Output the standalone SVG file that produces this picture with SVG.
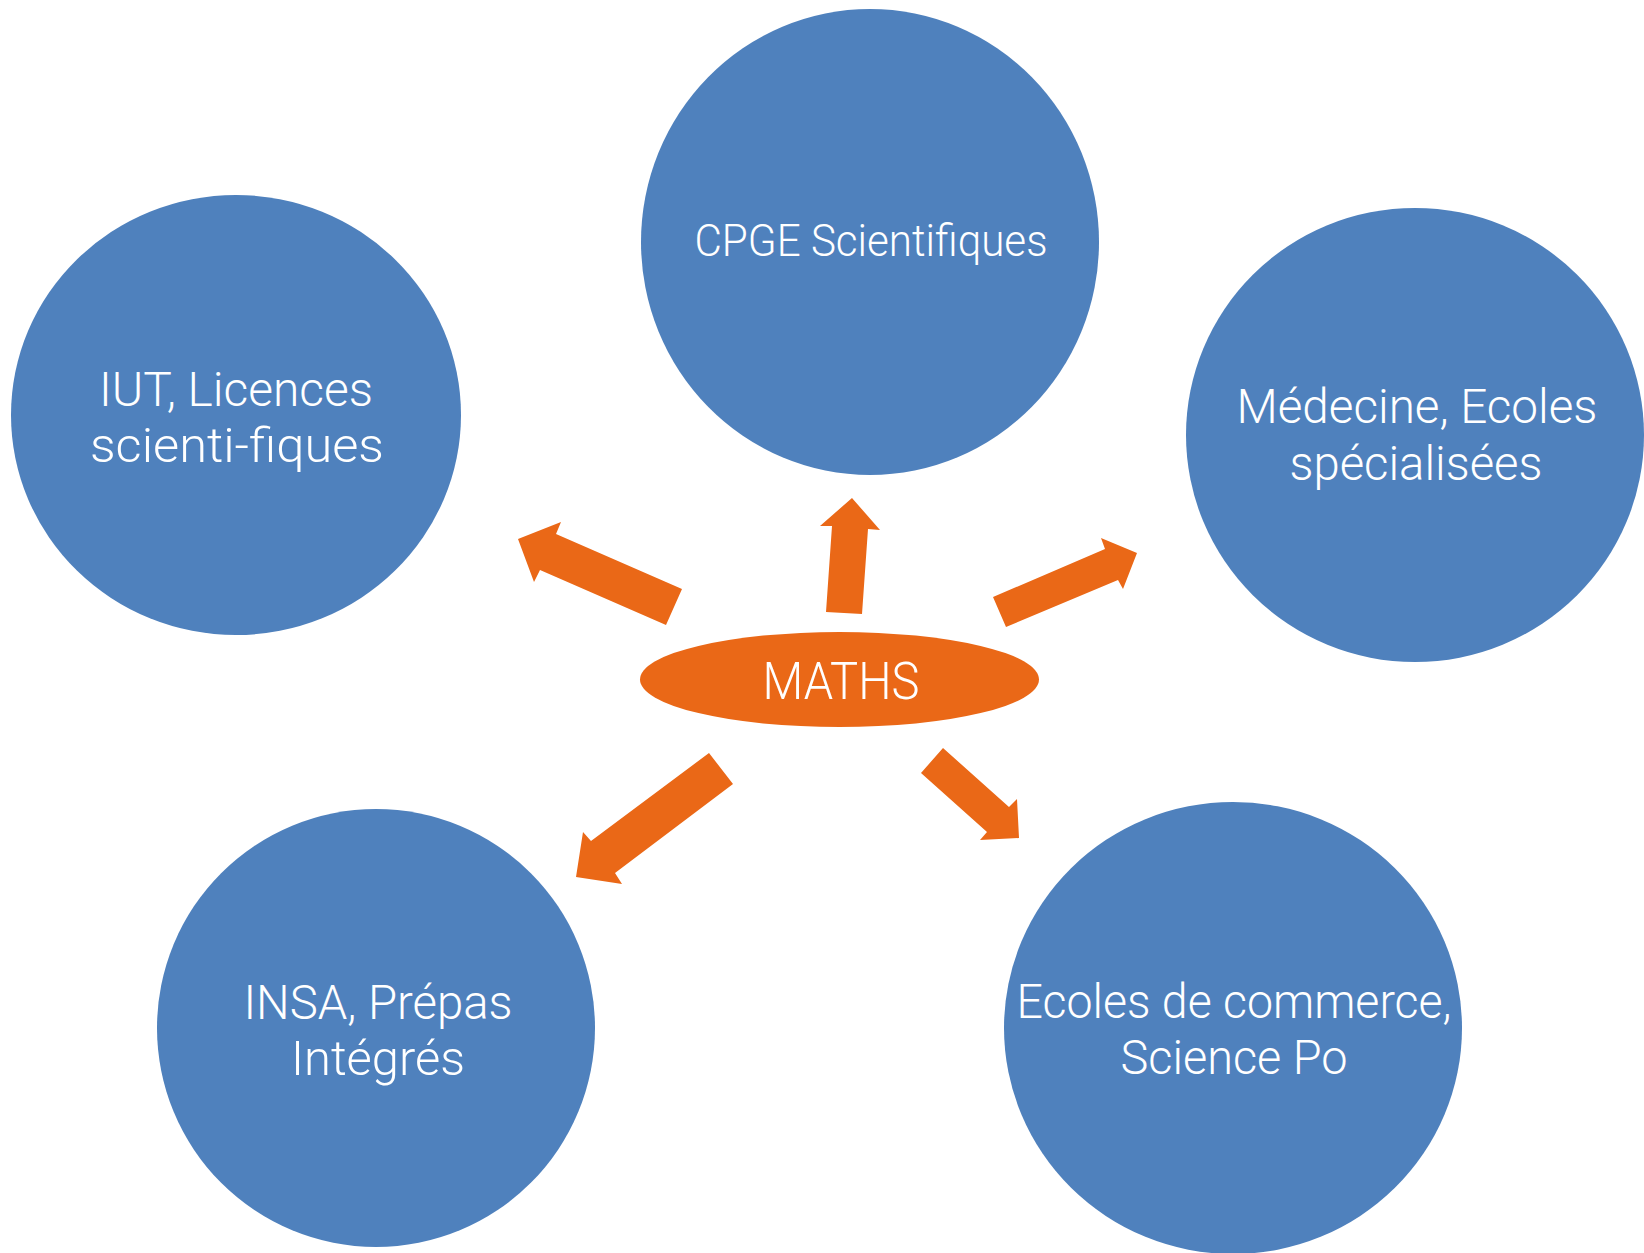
<svg xmlns="http://www.w3.org/2000/svg" width="1644" height="1253" viewBox="0 0 1644 1253">
<style>
.node{fill:#4F81BD}
.hub{fill:#EA6817}
.arrow{fill:#EA6817}
text{font-family:Roboto,"Liberation Sans",sans-serif;font-weight:300;fill:#FFFFFF;text-anchor:middle;font-size:48px}
</style>
<rect width="1644" height="1253" fill="#FFFFFF"/>
<g id="connectors">
<polygon class="arrow" points="852,498 880,530 868,529 862,614 826,612 832,526 820,526"/>
<polygon class="arrow" points="518,539 561,522 556,534 682,589 666,625 540,570 534,582"/>
<polygon class="arrow" points="709,753 733,784 615,873 622,884 576,877 583,832 591,841"/>
<polygon class="arrow" points="943,748 1009,807 1017,799 1019,838 980,840 987,832 921,773"/>
<polygon class="arrow" points="993,597 1105,549 1101,538 1137,553 1123,589 1118,580 1006,627"/>
</g>
<g id="node-cpge">
<ellipse class="node" cx="870" cy="242" rx="229" ry="233"/>
<text x="871" y="256" style="font-size:45px" textLength="353" lengthAdjust="spacingAndGlyphs">CPGE Scientifiques</text>
</g>
<g id="node-iut">
<ellipse class="node" cx="236" cy="415" rx="225" ry="220"/>
<text x="236" y="406" textLength="274" lengthAdjust="spacingAndGlyphs">IUT, Licences</text>
<text x="237" y="462" textLength="294" lengthAdjust="spacingAndGlyphs">scienti-fiques</text>
</g>
<g id="node-medecine">
<ellipse class="node" cx="1415" cy="435" rx="229" ry="227"/>
<text x="1417" y="423" textLength="361" lengthAdjust="spacingAndGlyphs">Médecine, Ecoles</text>
<text x="1416" y="480" textLength="253" lengthAdjust="spacingAndGlyphs">spécialisées</text>
</g>
<g id="node-insa">
<ellipse class="node" cx="376" cy="1028" rx="219" ry="219"/>
<text x="378" y="1019" textLength="269" lengthAdjust="spacingAndGlyphs">INSA, Prépas</text>
<text x="378" y="1075" textLength="174" lengthAdjust="spacingAndGlyphs">Intégrés</text>
</g>
<g id="node-ecoles">
<ellipse class="node" cx="1233" cy="1028" rx="229" ry="226"/>
<text x="1234" y="1018" textLength="435" lengthAdjust="spacingAndGlyphs">Ecoles de commerce,</text>
<text x="1234" y="1074" textLength="227" lengthAdjust="spacingAndGlyphs">Science Po</text>
</g>
<g id="node-maths">
<ellipse class="hub" cx="839.5" cy="679.5" rx="199.5" ry="47.5"/>
<text x="841" y="699" style="font-size:52px" textLength="157" lengthAdjust="spacingAndGlyphs">MATHS</text>
</g>
</svg>
